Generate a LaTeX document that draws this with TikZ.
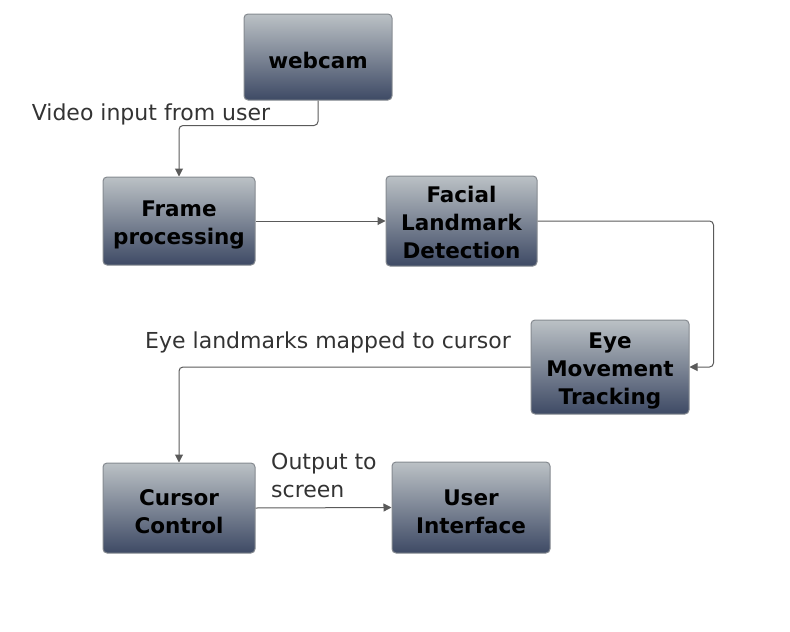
\documentclass[tikz,border=0pt]{standalone}
\usepackage{fontspec}
\setmainfont{DejaVu Sans}
\usetikzlibrary{arrows.meta}

\definecolor{boxtop}{HTML}{BBC1C5}
\definecolor{boxbot}{HTML}{3E4A65}
\definecolor{boxline}{HTML}{858A90}
\definecolor{linkcol}{HTML}{5A5A5A}
\definecolor{labcol}{HTML}{333333}

% strut that pushes the first line of a box down a little
\newcommand{\toppad}[1][23.5pt]{\rule{0pt}{#1}}

\tikzset{
  stage/.style={draw=boxline,line width=1pt,rounded corners=4pt,top color=boxtop,bottom color=boxbot,
    align=center,inner sep=0pt,font=\fontsize{21.5}{28}\selectfont\bfseries,text=black},
  link/.style={draw=linkcol,line width=1pt,rounded corners=4pt,-{Triangle[length=8pt,width=8pt]}},
  linklab/.style={inner sep=0pt,align=left,text=labcol,font=\fontsize{22}{28}\selectfont}
}

\begin{document}
\begin{tikzpicture}[x=1pt,y=1pt,yscale=-1,xscale=1]
\useasboundingbox (0,0) rectangle (790,632);

% Stages
\node (webcam) [stage,minimum width=148pt,minimum height=86pt] at (318,57) {\toppad[22.5pt]webcam};
\node (frame) [stage,minimum width=152pt,minimum height=88pt] at (179,221) {\toppad Frame\\processing};
\node (facial) [stage,minimum width=151pt,minimum height=90pt] at (461.5,221) {\toppad[19pt]Facial\\Landmark\\Detection};
\node (eye) [stage,minimum width=158pt,minimum height=94pt] at (610,367) {\toppad Eye\\Movement\\Tracking};
\node (cursor) [stage,minimum width=152pt,minimum height=90pt] at (179,508) {\toppad Cursor\\Control};
\node (ui) [stage,minimum width=158pt,minimum height=91pt] at (471,507.5) {\toppad User\\Interface};

% Links
\draw [link] (webcam.south) -- ++(0,25) -| (frame.north);
\draw [link] (frame.east) -- (facial.west);
\draw [link] (facial.east) -- ++(176,0) |- (eye.east);
\draw [link] (eye.west) -| (cursor.north);
\draw [link] (cursor.east) -- (ui.west);

% Link labels
\node (lvideo) [linklab] at (151,114) {Video input from user};
\node (lmap) [linklab] at (328,342) {Eye landmarks mapped to cursor};
\node (lout) [linklab,anchor=west] at (271,475) {Output to\\screen};

\end{tikzpicture}
\end{document}
